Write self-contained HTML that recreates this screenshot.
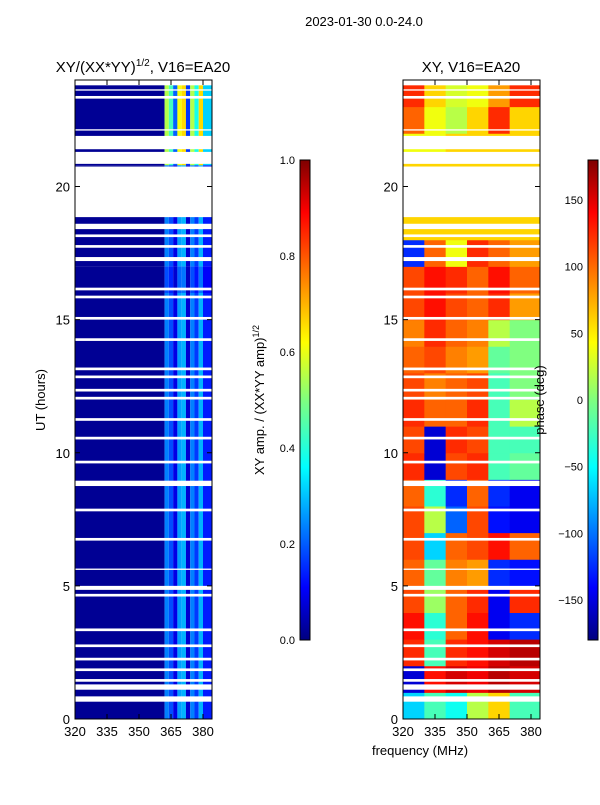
<!DOCTYPE html>
<html><head><meta charset="utf-8"><style>
body{margin:0;background:#fff;font-family:"Liberation Sans",sans-serif}
svg text{font-family:"Liberation Sans",sans-serif;fill:#000}
</style></head><body>
<svg id="fig" width="600" height="800" xmlns="http://www.w3.org/2000/svg">
<defs>
<linearGradient id="jet" x1="0" y1="1" x2="0" y2="0">
<stop offset="0" stop-color="#00007f"/><stop offset="0.11" stop-color="#0000ff"/><stop offset="0.36" stop-color="#00ffff"/><stop offset="0.5" stop-color="#7fff7f"/><stop offset="0.62" stop-color="#ffff00"/><stop offset="0.89" stop-color="#ff0000"/><stop offset="1" stop-color="#7f0000"/>
</linearGradient>
</defs>
<text x="364" y="26" font-size="13" text-anchor="middle">2023-01-30 0.0-24.0</text>
<text x="143" y="72" font-size="15" text-anchor="middle">XY/(XX*YY)<tspan font-size="10" dy="-6">1/2</tspan><tspan dy="6">, V16=EA20</tspan></text>
<text x="471" y="72" font-size="15" text-anchor="middle">XY, V16=EA20</text>
<g id="left"></g>
<g id="right"></g>
<g id="axes"></g>
<rect x="300" y="160" width="10" height="480" fill="url(#jet)" stroke="#000"/>
<rect x="588" y="160" width="10" height="480" fill="url(#jet)" stroke="#000"/>
<text transform="translate(264,400) rotate(-90)" font-size="13" text-anchor="middle">XY amp. / (XX*YY amp)<tspan font-size="9" dy="-5">1/2</tspan></text>
<text transform="translate(544,400) rotate(-90)" font-size="13" text-anchor="middle">phase (deg)</text>
<text transform="translate(45,400) rotate(-90)" font-size="13" text-anchor="middle">UT (hours)</text>
<text x="420" y="755" font-size="13" text-anchor="middle">frequency (MHz)</text>
</svg>
<script>
const yTicks=[0,5,10,15,20];
const xTicks=[320,335,350,365,380];
const ampTicks=[0.0,0.2,0.4,0.6,0.8,1.0];
const phaseTicks=[-150,-100,-50,0,50,100,150];
const gaps=[[0.65,0.85],[1.1,1.3],[1.4,1.5],[1.8,1.9],[2.2,2.3],[2.7,2.8],[3.3,3.4],[4.6,4.7],[4.85,5.0],[5.6,5.65],[6.7,6.8],[7.8,7.9],[8.75,8.95],[9.6,9.7],[10.5,10.6],[11.2,11.3],[12,12.1],[12.3,12.4],[12.8,12.9],[13.1,13.2],[14.2,14.3],[15.0,15.1],[15.8,15.9],[16.1,16.2],[17.2,17.35],[17.7,17.8],[18.1,18.2],[18.4,18.6],[18.85,20.75],[20.85,21.3],[21.4,21.9],[22.1,22.15],[23.3,23.4],[23.6,23.65],[23.8,24]];
const ampFreqEdges=[320,362,364,366,368,370,372,374,376,378,380,384];
const ampFreqVals=[0.02,0.25,0.2,0.1,0.28,0.3,0.08,0.25,0.18,0.3,0.15];
const ampHours=[0,16,17,20.8,24];
const ampHourFactor=[1,0.8,1,2.2];
const phFreqEdges=[320,330,340,350,360,370,384];
const phase=[
[-60,-20,-40,20,60,-20],[-150,130,150,140,160,150],[120,-20,120,130,150,160],[130,-30,100,130,-140,-120],
[110,10,100,120,-140,120],[100,-10,90,80,-120,-130],[110,-60,100,110,130,100],[110,20,-100,110,-130,-140],
[100,-30,-120,100,-120,-140],[120,-150,110,120,-20,-10],[110,-150,120,110,-20,-20],[120,100,100,120,-20,20],
[110,90,100,110,-20,0],[100,110,90,80,-10,0],[90,120,100,90,20,0],[110,130,110,100,120,80],
[110,130,120,100,130,100],[-120,100,40,120,100,80],[60,60,60,60,60,60],[60,60,60,60,60,60],
[60,60,60,60,60,60],[40,40,60,60,60,60],[100,40,20,60,120,60],[120,60,30,40,80,120]];
const NS='http://www.w3.org/2000/svg';
const yS=h=>719-h*(639/24);
const xL=f=>75+(f-320)*(128/60);
const xR=f=>403+(f-320)*(128/60);
function jet(v){v=Math.max(0,Math.min(1,v));
 const c=x=>Math.round(255*Math.max(0,Math.min(1,1.5-Math.abs(4*v-x))));
 return `rgb(${c(3)},${c(2)},${c(1)})`;}
function mk(tag,at,par){const e=document.createElementNS(NS,tag);for(const k in at)e.setAttribute(k,at[k]);par.appendChild(e);return e;}
const L=document.getElementById('left'),R=document.getElementById('right'),A=document.getElementById('axes');
for(let k=0;k<ampHours.length-1;k++){for(let i=0;i<ampFreqVals.length;i++){
 const r=mk('rect',{x:xL(ampFreqEdges[i]),y:yS(ampHours[k+1]),width:xL(ampFreqEdges[i+1])-xL(ampFreqEdges[i]),height:yS(ampHours[k])-yS(ampHours[k+1]),fill:jet(ampFreqVals[i]*(i==0?1:ampHourFactor[k]))},L);
 
 }}
for(let h=0;h<phase.length;h++){for(let i=0;i<phase[h].length;i++){
 const r=mk('rect',{x:xR(phFreqEdges[i]),y:yS(h+1),width:xR(phFreqEdges[i+1])-xR(phFreqEdges[i])+0.5,height:yS(h)-yS(h+1)+0.5,fill:jet((phase[h][i]+180)/360)},R);
 
 }}
for(const g of gaps){for(const x0 of [75,403]){
 const r=mk('rect',{x:x0,y:yS(g[1]),width:137,height:yS(g[0])-yS(g[1]),fill:'#fff'},A);
 
 }}
for(const x0 of [75,403]){
 const f=mk('rect',{x:x0,y:80,width:137,height:639,fill:'none',stroke:'#000'},A);
 
 
 const xs=x0==75?xL:xR;
 for(const t of yTicks){const y=yS(t);
  mk('line',{x1:x0,x2:x0+5,y1:y,y2:y,stroke:'#000'},A);mk('line',{x1:x0+137,x2:x0+132,y1:y,y2:y,stroke:'#000'},A);
  const tx=mk('text',{x:x0-5,y:y+5,'font-size':13,'text-anchor':'end'},A);tx.textContent=t;
  
  }
 for(const t of xTicks){const x=xs(t);
  mk('line',{x1:x,x2:x,y1:719,y2:714,stroke:'#000'},A);mk('line',{x1:x,x2:x,y1:80,y2:85,stroke:'#000'},A);
  const tx=mk('text',{x:x,y:736,'font-size':13,'text-anchor':'middle'},A);tx.textContent=t;
  
  }}
for(const t of ampTicks){const y=640-t*480;
 mk('line',{x1:300,x2:310,y1:y,y2:y,stroke:'#000'},A);
 const tx=mk('text',{x:295,y:y+4,'font-size':11,'text-anchor':'end'},A);tx.textContent=t.toFixed(1);
 
 }
for(const t of phaseTicks){const y=400-t*480/360;
 mk('line',{x1:588,x2:598,y1:y,y2:y,stroke:'#000'},A);
 const tx=mk('text',{x:583,y:y+4,'font-size':11,'text-anchor':'end'},A);tx.textContent=t<0?'\u2212'+(-t):t;
 
 }
</script>
</body></html>
